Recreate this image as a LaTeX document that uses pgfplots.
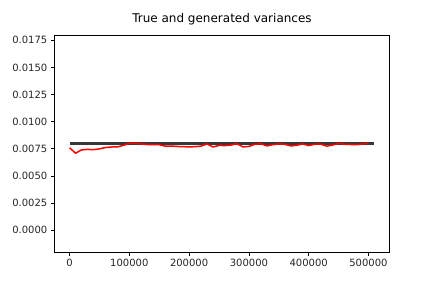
\documentclass[border=0pt]{standalone}
\usepackage{fontspec}
\setmainfont{DejaVu Sans}
\usepackage{pgfplots}
\pgfplotsset{compat=1.18}
\begin{document}
\begin{tikzpicture}
\path[use as bounding box] (0,0) rectangle (432pt,288pt);
\begin{axis}[
  at={(54.3pt,35.7pt)}, anchor=south west,
  scale only axis, width=335.4pt, height=217pt,
  xmin=-25500, xmax=535500,
  ymin=-0.00203, ymax=0.01796,
  xtick={0,100000,200000,300000,400000,500000},
  ytick={0,0.0025,0.005,0.0075,0.01,0.0125,0.015,0.0175},
  scaled x ticks=false, scaled y ticks=false,
  xticklabel style={/pgf/number format/.cd, fixed, set thousands separator={}, assume math mode=true},
  yticklabel style={/pgf/number format/.cd, fixed, fixed zerofill, precision=4, assume math mode=true},
  ticklabel style={font=\fontsize{10}{12}\selectfont, text=black!85},
  tick align=outside, xtick pos=left, ytick pos=left,
  major tick length=3.5pt,
  tick style={black, line width=0.8pt},
  axis line style={black, line width=0.8pt},
  title={True and generated variances},
  title style={font=\fontsize{12}{14}\selectfont, at={(0.5,1)}, anchor=base, yshift=6.5pt, inner sep=0pt},
  clip=false,
]
\addplot[color=black!78, line width=2.2pt] coordinates {(0,0.008) (510000,0.008)};
\addplot[color=red, line width=1.5pt, line join=round] coordinates {
(0,0.0076) (10000,0.0071) (20000,0.0074) (30000,0.00745) (40000,0.00742)
(50000,0.0075) (60000,0.00762) (70000,0.00767) (80000,0.00768) (90000,0.00782)
(100000,0.008) (110000,0.00802) (120000,0.00795) (130000,0.0079) (140000,0.00788)
(150000,0.00788) (160000,0.00775) (170000,0.00776) (180000,0.00772) (190000,0.0077)
(200000,0.00768) (210000,0.0077) (220000,0.00775) (230000,0.00795) (240000,0.00767)
(250000,0.00782) (260000,0.0078) (270000,0.00785) (280000,0.00797) (290000,0.00768)
(300000,0.00772) (310000,0.00792) (320000,0.00797) (330000,0.00777) (340000,0.00788)
(350000,0.00795) (360000,0.00792) (370000,0.00777) (380000,0.00783) (390000,0.00795)
(400000,0.0078) (410000,0.00792) (420000,0.00793) (430000,0.00775) (440000,0.00785)
(450000,0.008) (460000,0.00792) (470000,0.0079) (480000,0.00788) (490000,0.00795)
(500000,0.008)
};
\end{axis}
\end{tikzpicture}
\end{document}
